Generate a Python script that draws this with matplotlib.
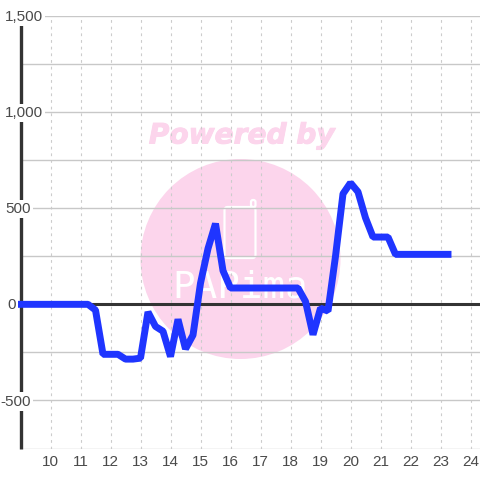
import matplotlib
matplotlib.use("Agg")
import matplotlib.pyplot as plt
import matplotlib.patheffects as pe
from matplotlib.patches import Circle, FancyBboxPatch
from matplotlib.transforms import IdentityTransform

plt.rcParams["font.family"] = ["Liberation Sans", "DejaVu Sans"]

hours = [9, 11.25, 11.5, 11.75, 12.25, 12.5, 12.75, 13, 13.25, 13.5, 13.75, 14,
         14.25, 14.5, 14.75, 15, 15.25, 15.5, 15.75, 16, 18.25, 18.5, 18.75, 19,
         19.25, 19.5, 19.75, 20, 20.25, 20.5, 20.75, 21.25, 21.5, 23.25]
values = [0, 0, -30, -260, -260, -285, -285, -280, -40, -115, -140, -272,
          -78, -232, -160, 110, 290, 420, 175, 85, 85, 15, -158, -20,
          -35, 250, 575, 632, 585, 450, 350, 350, 260, 260]
x_ticks = list(range(10, 25))
y_major = [-500, 0, 500, 1000, 1500]
y_minor = [-750, -250, 250, 750, 1250]
y_labels = ["-500", "0", "500", "1,000", "1,500"]

W, H = 480, 480


def px(x, y):
    # top-left pixel position -> display coords
    return x, H - y


fig = plt.figure(figsize=(W / 100, H / 100), dpi=100, facecolor="white")
ax = fig.add_axes([20.5 / W, (H - 448.5) / H, (W - 20.5) / W, (448.5 - 16) / H])
ax.patch.set_alpha(0)
ax.set_xlim(9, 9 + (W - 20.5) / 30)
ax.set_ylim(-750, 1500)
for s in ax.spines.values():
    s.set_visible(False)

# watermark
fig.patches.append(Circle(px(240.5, 259), 100, transform=IdentityTransform(),
                          facecolor="#fcd5ec", edgecolor="none", zorder=-5))
fig.text(241.5 / W, (H - 135.5) / H, "Powered by", color="#fcd5ec", fontsize=20.2,
         family="DejaVu Sans", fontweight="bold", fontstyle="italic",
         ha="center", va="center", zorder=-4,
         path_effects=[pe.withStroke(linewidth=0.7, foreground="#fcd5ec")])
fig.patches.append(FancyBboxPatch(px(224.5, 258), 31, 51, boxstyle="round,pad=0,rounding_size=3",
                                  transform=IdentityTransform(), facecolor="none",
                                  edgecolor="white", linewidth=1.6, zorder=-4))
fig.patches.append(FancyBboxPatch(px(251, 207), 4.5, 7, boxstyle="round,pad=0,rounding_size=2",
                                  transform=IdentityTransform(), facecolor="none",
                                  edgecolor="white", linewidth=1.6, zorder=-4))
fig.text(240 / W, (H - 288) / H, "PAPima", color="white", fontsize=27,
         family="DejaVu Sans Mono", ha="center", va="center", zorder=-4)

ax.set_xticks(x_ticks)
ax.set_yticks(y_major)
ax.set_yticklabels(y_labels)
ax.set_yticks(y_minor, minor=True)
ax.grid(axis="x", color="#cccccc", linewidth=0.8, linestyle=(0, (2.5, 3.5)))
ax.grid(axis="y", which="both", color="#c8c8c8", linewidth=1)
ax.tick_params(which="both", length=0)
ax.tick_params(axis="x", labelsize=11, labelcolor="#4a4a4a", pad=5)
ax.yaxis.set_tick_params(labelleft=False)

# value labels sit on the axis with a white box that breaks the line
label_right = {-500: 31, 0: 16, 500: 31, 1000: 43, 1500: 43}
for v, lab in zip(y_major, y_labels):
    ax.annotate(lab, (0, v), xycoords=("axes fraction", "data"),
                xytext=((label_right[v] - 20.5) * 0.72, -0.8), textcoords="offset points",
                ha="right", va="center", fontsize=11, color="#4a4a4a", zorder=6,
                annotation_clip=False,
                bbox=dict(facecolor="white", edgecolor="none", pad=1.5))

ax.axvline(9, color="#333333", linewidth=2.4, zorder=2, clip_on=False, solid_capstyle="butt")
ax.axhline(0, color="#333333", linewidth=2.2, zorder=2)
line, = ax.plot(hours, values, color="#1f35ff", linewidth=5, zorder=4,
                solid_joinstyle="bevel", solid_capstyle="projecting", clip_on=False)

fig.savefig("out.png", dpi=100)
